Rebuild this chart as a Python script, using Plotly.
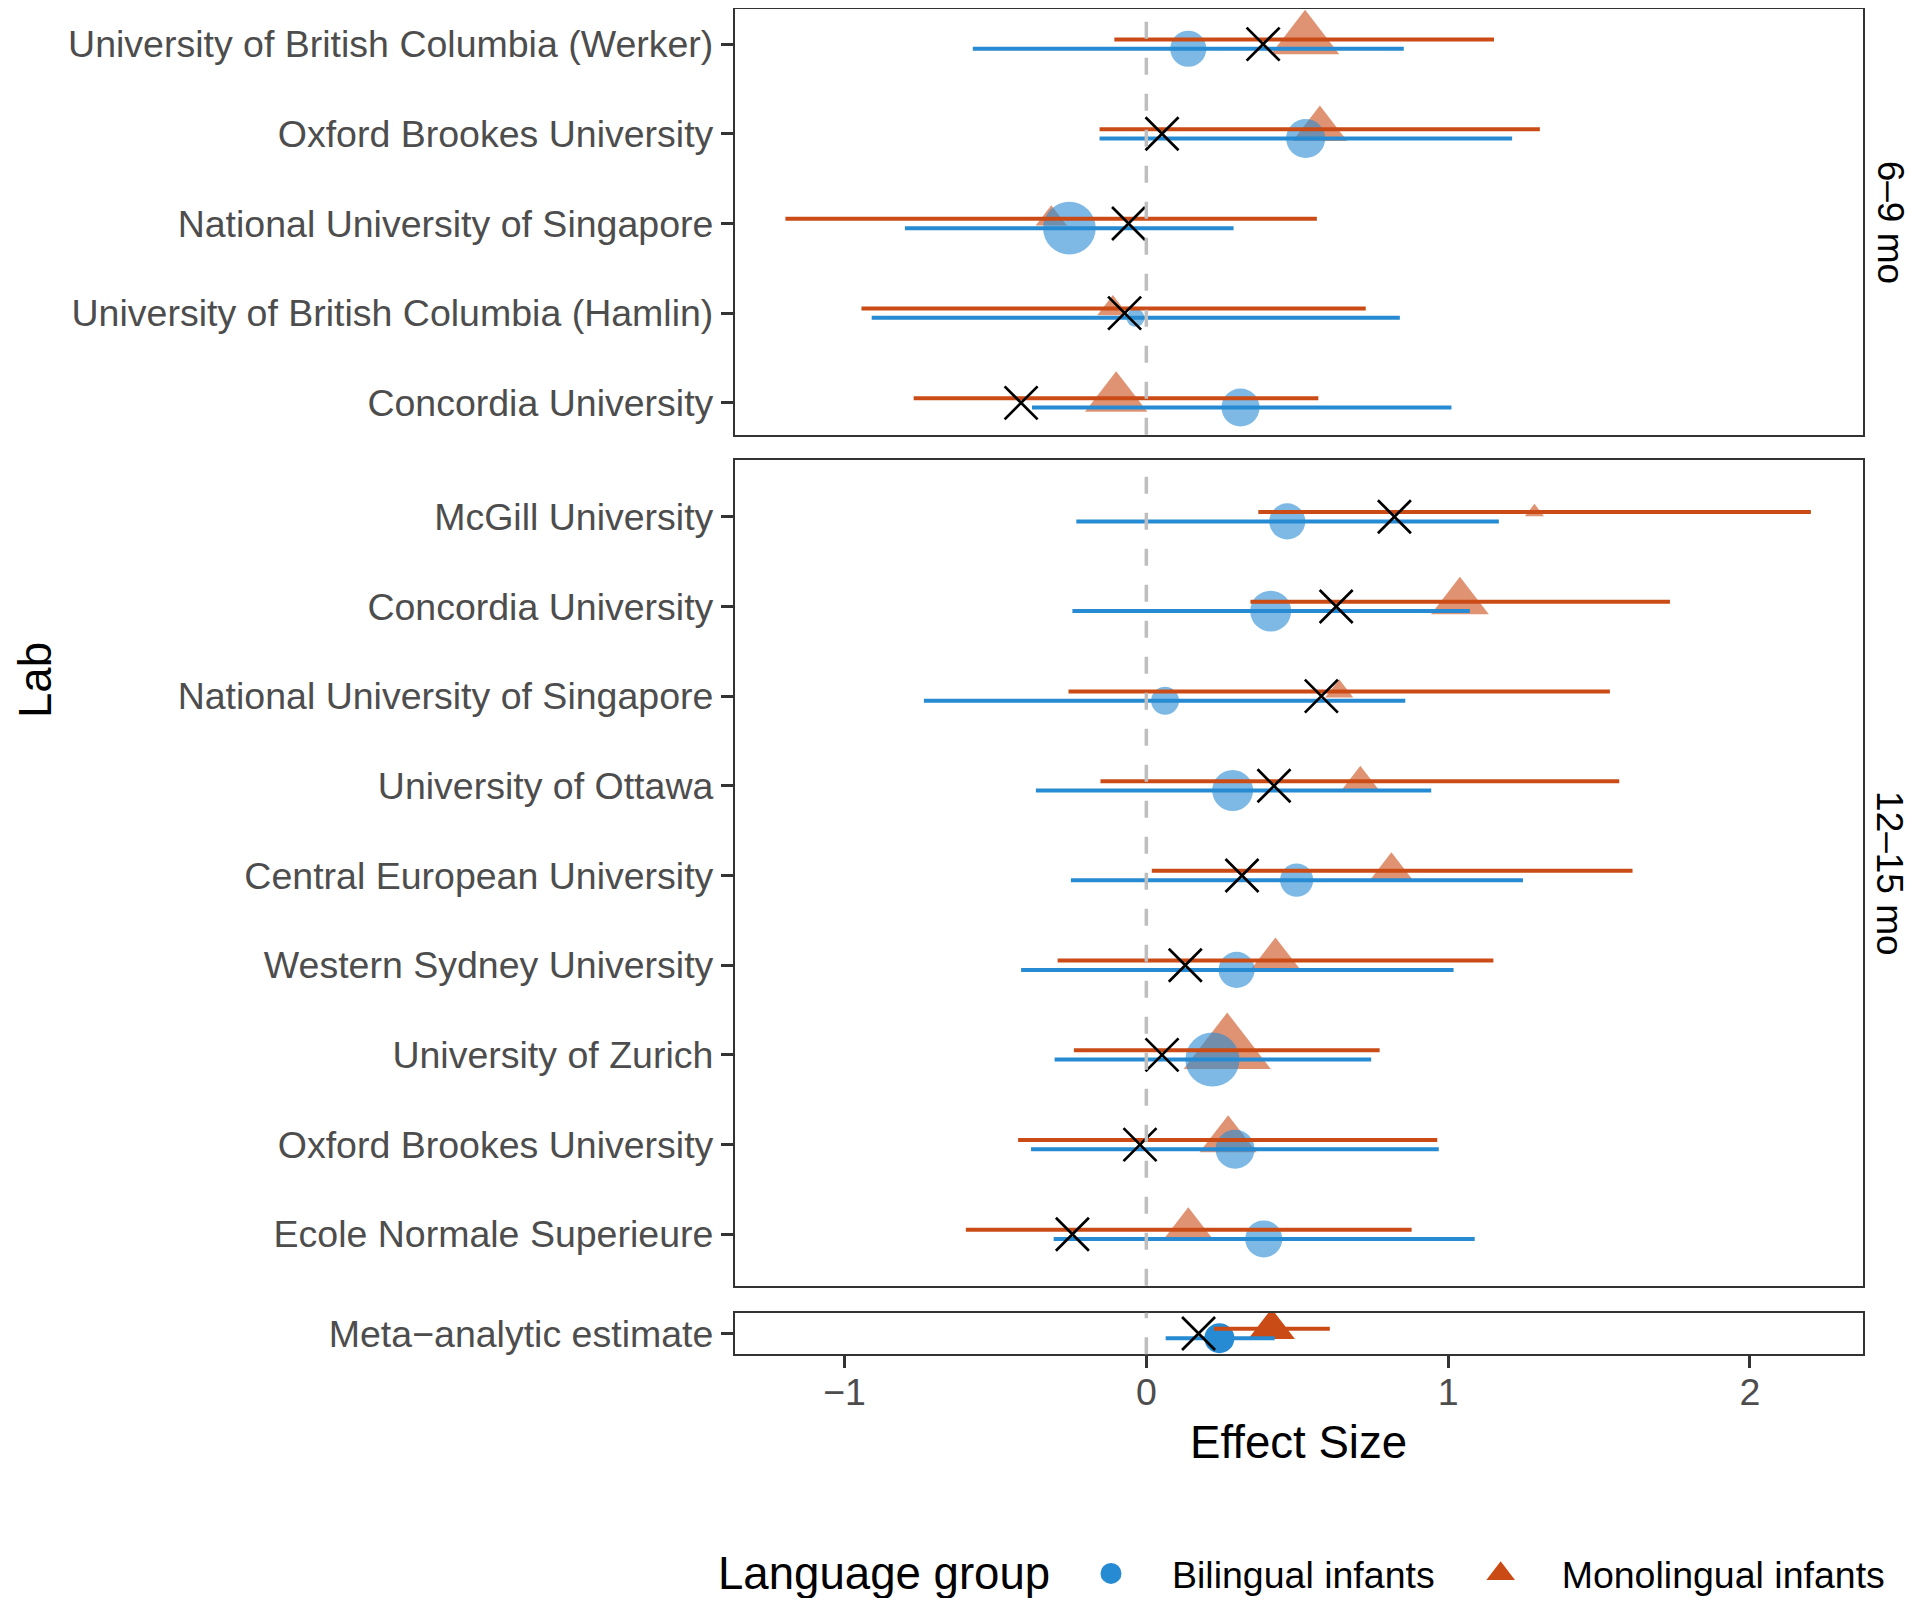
import numpy as np
import plotly.graph_objects as go

BLUE = "#268bd2"
ORANGE = "#cb4b16"
FONT = "Liberation Sans, Arial, sans-serif"

# ---- 6-9 mo labs (top to bottom) ----
labs_69 = ["University of British Columbia (Werker)", "Oxford Brookes University",
           "National University of Singapore", "University of British Columbia (Hamlin)",
           "Concordia University"]
bil_es_69 = [0.139, 0.528, -0.255, -0.036, 0.312]
bil_lo_69 = [-0.575, -0.155, -0.800, -0.910, -0.379]
bil_hi_69 = [0.853, 1.212, 0.289, 0.840, 1.011]
bil_w_69 = [52, 61, 111, 13, 58]
mono_es_69 = [0.526, 0.575, -0.315, -0.111, -0.100]
mono_lo_69 = [-0.106, -0.155, -1.196, -0.944, -0.771]
mono_hi_69 = [1.152, 1.304, 0.565, 0.727, 0.570]
mono_w_69 = [77, 49, 16, 16, 64]
lab_es_69 = [0.387, 0.052, -0.059, -0.072, -0.415]

# ---- 12-15 mo labs ----
labs_1215 = ["McGill University", "Concordia University", "National University of Singapore",
             "University of Ottawa", "Central European University", "Western Sydney University",
             "University of Zurich", "Oxford Brookes University", "Ecole Normale Superieure"]
bil_es_1215 = [0.467, 0.412, 0.062, 0.286, 0.498, 0.299, 0.219, 0.294, 0.389]
bil_lo_1215 = [-0.232, -0.245, -0.737, -0.366, -0.250, -0.415, -0.304, -0.382, -0.307]
bil_hi_1215 = [1.168, 1.072, 0.858, 0.944, 1.248, 1.018, 0.745, 0.969, 1.088]
bil_w_1215 = [52, 67, 31, 67, 44, 52, 117, 61, 55]
mono_es_1215 = [1.286, 1.039, 0.639, 0.709, 0.812, 0.428, 0.268, 0.271, 0.139]
mono_lo_1215 = [0.371, 0.345, -0.258, -0.152, 0.018, -0.294, -0.240, -0.425, -0.598]
mono_hi_1215 = [2.202, 1.735, 1.536, 1.567, 1.611, 1.150, 0.773, 0.964, 0.879]
mono_w_1215 = [6, 55, 13, 21, 30, 47, 125, 54, 44]
lab_es_1215 = [0.822, 0.629, 0.580, 0.423, 0.317, 0.129, 0.052, -0.021, -0.245]

# ---- meta-analytic estimate ----
labs_meta = ["Meta\u2212analytic estimate"]
bil_es_meta = [0.242]
bil_lo_meta = [0.064]
bil_hi_meta = [0.425]
bil_w_meta = [36]
mono_es_meta = [0.415]
mono_lo_meta = [0.224]
mono_hi_meta = [0.608]
mono_w_meta = [36]
lab_es_meta = [0.173]

x_ticks = [-1, 0, 1, 2]

# page has an 8px body margin, so the figure is a bit smaller than the window
W, H, OFF = 1904, 1590, 8


def px_x(v):
    return (v - OFF) / W


def px_y(v):
    return 1 - (v - OFF) / H


def size_scale(w):
    return 5 * np.sqrt(np.array(w, dtype=float))


panels = [
    dict(name="6\u20139 mo", labs=labs_69, bil=(bil_es_69, bil_lo_69, bil_hi_69, bil_w_69),
         mono=(mono_es_69, mono_lo_69, mono_hi_69, mono_w_69), lab=lab_es_69,
         xa="x3", ya="y", dom=[px_y(434.7), px_y(8.6)], rng=[0.645, 5.396], alpha=0.6),
    dict(name="12\u201315 mo", labs=labs_1215, bil=(bil_es_1215, bil_lo_1215, bil_hi_1215, bil_w_1215),
         mono=(mono_es_1215, mono_lo_1215, mono_hi_1215, mono_w_1215), lab=lab_es_1215,
         xa="x2", ya="y2", dom=[px_y(1285.7), px_y(460.4)], rng=[0.427, 9.628], alpha=0.6),
    dict(name=None, labs=labs_meta, bil=(bil_es_meta, bil_lo_meta, bil_hi_meta, bil_w_meta),
         mono=(mono_es_meta, mono_lo_meta, mono_hi_meta, mono_w_meta), lab=lab_es_meta,
         xa="x", ya="y3", dom=[px_y(1354.3), px_y(1312.7)], rng=[0.768, 1.232], alpha=1.0),
]

xdom = [px_x(735), px_x(1862.5)]
dodge = 0.052
fig = go.Figure()

for p in panels:
    n = len(p["labs"])
    pos = np.arange(n, 0, -1, dtype=float)
    b_es, b_lo, b_hi, b_w = [np.array(v, dtype=float) for v in p["bil"]]
    m_es, m_lo, m_hi, m_w = [np.array(v, dtype=float) for v in p["mono"]]

    # monolingual points
    fig.add_trace(go.Scatter(
        x=m_es, y=pos + dodge, mode="markers", xaxis=p["xa"], yaxis=p["ya"],
        name="Monolingual infants", legendgroup="mono", showlegend=False,
        marker=dict(symbol="triangle-up", size=1.35 * size_scale(m_w), color=ORANGE,
                    opacity=p["alpha"], line=dict(width=0))))
    # bilingual points
    fig.add_trace(go.Scatter(
        x=b_es, y=pos - dodge, mode="markers", xaxis=p["xa"], yaxis=p["ya"],
        name="Bilingual infants", legendgroup="bil", showlegend=False,
        marker=dict(symbol="circle", size=size_scale(b_w), color=BLUE,
                    opacity=p["alpha"], line=dict(width=0))))
    # intervals
    for es, lo, hi, yy, col, grp in [(m_es, m_lo, m_hi, pos + dodge, ORANGE, "mono"),
                                     (b_es, b_lo, b_hi, pos - dodge, BLUE, "bil")]:
        fig.add_trace(go.Scatter(
            x=es, y=yy, mode="markers", xaxis=p["xa"], yaxis=p["ya"],
            legendgroup=grp, showlegend=False, hoverinfo="skip",
            marker=dict(size=1, opacity=0),
            error_x=dict(type="data", symmetric=False, array=hi - es, arrayminus=es - lo,
                         width=0, thickness=4, color=col)))
    # lab-level estimate
    fig.add_trace(go.Scatter(
        x=p["lab"], y=pos, mode="markers", xaxis=p["xa"], yaxis=p["ya"], showlegend=False,
        marker=dict(symbol="x-thin-open", size=33, color="black", line=dict(width=2.7, color="black"))))

    # zero reference line
    fig.add_shape(type="line", xref="x", yref=p["ya"] + " domain", x0=0, x1=0, y0=0, y1=1,
                  line=dict(color="#bebebe", width=3.5, dash="17px,19px"), layer="above")

    ykey = "yaxis" if p["ya"] == "y" else "yaxis" + p["ya"][1:]
    fig.layout[ykey] = dict(
        domain=p["dom"], range=p["rng"], anchor=p["xa"], tickmode="array",
        tickvals=pos, ticktext=p["labs"], ticks="outside", ticklen=12, tickwidth=3,
        tickcolor="#333333", showline=True, mirror=True, linecolor="#333333", linewidth=2.3,
        showgrid=False, zeroline=False, automargin=False, fixedrange=True,
        tickfont=dict(size=37.5, color="#4d4d4d", family=FONT))

    if p["name"]:
        fig.add_annotation(text=p["name"], xref="paper", yref="paper", x=px_x(1890),
                           y=(p["dom"][0] + p["dom"][1]) / 2, xanchor="center", yanchor="middle",
                           textangle=90, showarrow=False,
                           font=dict(size=37, color="black", family=FONT))

# legend-only entries (no data), drawn with a solid outline so the keys read larger
for name, sym, col in [("Bilingual infants", "circle", BLUE),
                       ("Monolingual infants", "triangle-up", ORANGE)]:
    fig.add_trace(go.Scatter(
        x=[None], y=[None], mode="markers", xaxis="x", yaxis="y3", name=name,
        marker=dict(symbol=sym, size=16, color=col, line=dict(width=5, color=col))))

xbase = dict(domain=xdom, range=[-1.363, 2.373], showgrid=False, zeroline=False,
             showline=True, mirror=True, linecolor="#333333", linewidth=2.3, automargin=False)
fig.update_layout(
    xaxis=dict(**xbase, anchor="y3", tickmode="array", tickvals=x_ticks, ticks="outside",
               ticklen=12, tickwidth=3, tickcolor="#333333", ticklabelstandoff=-8,
               tickfont=dict(size=37.5, color="#4d4d4d", family=FONT)),
    xaxis2=dict(**xbase, anchor="y2", matches="x", showticklabels=False, ticks=""),
    xaxis3=dict(**xbase, anchor="y", matches="x", showticklabels=False, ticks=""),
)

fig.add_annotation(text="Lab", xref="paper", yref="paper", x=px_x(35), y=px_y(680),
                   xanchor="center", yanchor="middle", textangle=-90, showarrow=False,
                   font=dict(size=45.6, color="black", family=FONT))
fig.add_annotation(text="Effect Size", xref="paper", yref="paper", x=(xdom[0] + xdom[1]) / 2,
                   y=px_y(1442.5), xanchor="center", yanchor="middle", showarrow=False,
                   font=dict(size=45.6, color="black", family=FONT))
# legend title
fig.add_annotation(text="Language group", xref="paper", yref="paper", x=px_x(716),
                   y=px_y(1573.5), xanchor="left", yanchor="middle", showarrow=False,
                   font=dict(size=45.6, color="black", family=FONT))

fig.update_layout(
    width=W, height=H, margin=dict(l=0, r=0, t=0, b=0, autoexpand=False),
    paper_bgcolor="white", plot_bgcolor="white",
    font=dict(family=FONT),
    legend=dict(orientation="h", x=px_x(1050), xanchor="left", y=px_y(1573.5), yanchor="middle",
                font=dict(size=37.5, color="black", family=FONT), itemsizing="trace",
                itemwidth=112, traceorder="normal"),
)

fig.write_html("out.html")
